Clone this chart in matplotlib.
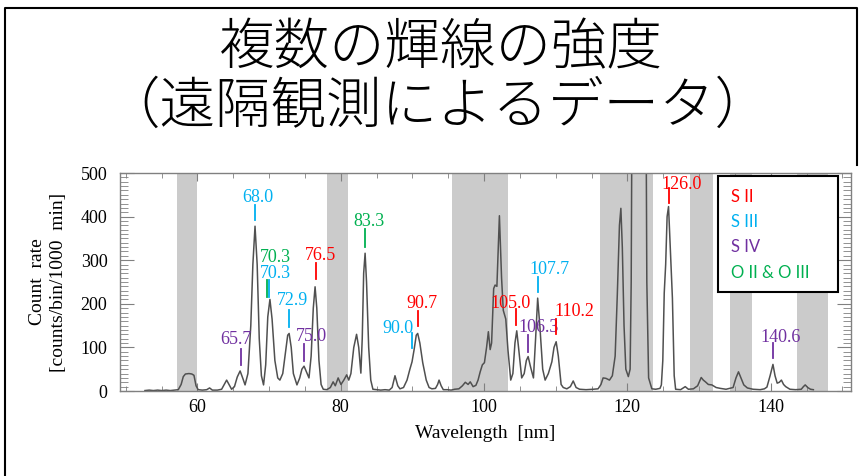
import matplotlib
matplotlib.use('Agg')
import matplotlib.pyplot as plt
from matplotlib.lines import Line2D
from matplotlib.patches import Rectangle
from matplotlib.ticker import MultipleLocator

plt.rcParams['font.family'] = ['Liberation Serif', 'DejaVu Serif']

# spectrum (nm, counts/bin/1000 min)
wavelength = [52.68, 53.27, 53.86, 54.45, 55.04, 55.63, 56.22, 56.81, 57.33, 57.73,
              58.03, 58.33, 58.82, 59.22, 59.52, 59.81, 60.11, 60.70, 61.30, 61.70,
              62.09, 62.79, 63.38, 63.78, 64.08, 64.37, 64.77, 65.17, 65.56, 65.96,
              66.36, 66.65, 67.05, 67.45, 67.74, 68.04, 68.34, 68.63, 68.93, 69.23,
              69.53, 69.82, 70.12, 70.42, 70.81, 71.21, 71.51, 71.91, 72.30, 72.60,
              72.80, 73.09, 73.39, 73.89, 74.28, 74.58, 74.88, 75.18, 75.57, 75.87,
              76.17, 76.42, 76.66, 76.96, 77.26, 77.56, 78.05, 78.55, 78.94, 79.24,
              79.64, 80.03, 80.43, 80.83, 81.12, 81.42, 81.82, 82.21, 82.51, 82.81,
              83.00, 83.20, 83.40, 83.60, 83.90, 84.19, 84.49, 84.99, 85.58, 86.18,
              86.77, 87.17, 87.57, 87.96, 88.26, 88.76, 89.25, 89.65, 89.95, 90.24,
              90.54, 90.74, 91.04, 91.44, 91.93, 92.33, 92.72, 93.22, 93.52, 93.72,
              94.01, 94.31, 94.90, 95.40, 95.89, 96.49, 96.98, 97.38, 97.77, 98.07,
              98.47, 98.86, 99.16, 99.46, 99.76, 100.05, 100.35, 100.60, 100.85, 101.05,
              101.34, 101.54, 101.79, 102.14, 102.44, 102.68, 103.03, 103.33, 103.72, 104.02,
              104.31, 104.56, 104.81, 105.25, 105.60, 105.90, 106.15, 106.49, 106.89, 107.19,
              107.48, 107.78, 108.18, 108.52, 108.97, 109.46, 109.76, 110.06, 110.36, 110.75,
              111.05, 111.55, 112.04, 112.44, 112.84, 113.33, 114.23, 115.22, 115.91, 116.31,
              116.61, 117.01, 117.50, 117.90, 118.29, 118.59, 118.89, 119.09, 119.29, 119.53,
              119.78, 120.13, 120.38, 120.53, 120.68, 121.27, 122.07, 122.56, 122.71, 122.96,
              123.41, 123.95, 124.55, 124.74, 124.94, 125.14, 125.34, 125.54, 125.74, 125.98,
              126.28, 126.53, 126.73, 127.42, 128.07, 128.51, 129.21, 129.80, 130.30, 130.59,
              130.89, 131.29, 131.78, 132.38, 132.97, 133.76, 134.75, 135.15, 135.50, 135.84,
              136.24, 136.74, 137.53, 138.52, 139.12, 139.47, 139.91, 140.31, 140.60, 140.90,
              141.20, 141.49, 141.79, 142.09, 142.68, 143.47, 144.26, 144.56, 144.81, 145.16,
              145.55, 145.95]
counts = [1, 2, 1, 2, 1, 2, 1, 2, 3, 15,
          33, 39, 40, 39, 36, 12, 3, 2, 3, 7,
          2, 2, 4, 16, 25, 16, 4, 10, 32, 46,
          28, 14, 40, 150, 290, 378, 290, 120, 35, 14,
          60, 170, 210, 165, 70, 30, 25, 40, 90, 128,
          132, 100, 40, 14, 30, 50, 57, 45, 30, 80,
          190, 239, 190, 70, 15, 4, 3, 8, 21, 12,
          30, 15, 25, 37, 25, 40, 100, 130, 100, 41,
          120, 270, 316, 250, 100, 25, 4, 3, 2, 3,
          2, 8, 35, 12, 5, 8, 25, 50, 67, 95,
          128, 132, 110, 65, 25, 8, 5, 6, 15, 25,
          12, 3, 3, 2, 4, 5, 12, 20, 15, 21,
          10, 13, 25, 44, 60, 65, 100, 136, 95, 110,
          235, 243, 240, 402, 260, 185, 165, 95, 25, 40,
          110, 138, 100, 30, 40, 70, 79, 55, 30, 120,
          213, 150, 50, 25, 40, 67, 100, 113, 80, 15,
          8, 5, 10, 23, 8, 4, 3, 4, 5, 15,
          30, 29, 25, 35, 80, 220, 380, 419, 330, 150,
          50, 33, 50, 250, 800, 3000, 3000, 800, 250, 30,
          5, 4, 6, 14, 70, 225, 290, 400, 423, 330,
          213, 35, 4, 3, 10, 4, 5, 12, 31, 25,
          21, 15, 14, 8, 6, 4, 8, 30, 44, 30,
          14, 7, 4, 3, 5, 9, 35, 61, 35, 18,
          20, 25, 15, 10, 4, 3, 4, 10, 14, 8,
          4, 3]

# shaded wavelength bands
band_start = [57.10, 78.12, 95.57, 116.19, 128.76, 134.34, 143.65]
band_end = [59.89, 80.97, 103.31, 123.63, 132.01, 137.37, 148.06]

# identified lines
line_text = ['65.7', '68.0', '70.3', '70.3', '72.9', '75.0', '76.5', '83.3',
             '90.0', '90.7', '105.0', '106.3', '107.7', '110.2', '126.0', '140.6']
line_ion = ['S IV', 'S III', 'O II & O III', 'S III', 'S III', 'S IV', 'S II', 'O II & O III',
            'S III', 'S II', 'S II', 'S IV', 'S III', 'S II', 'S II', 'S IV']
line_nm = [66.03, 68.03, 69.66, 70.02, 72.77, 74.87, 76.50, 83.38,
           89.99, 90.74, 104.46, 106.18, 107.49, 110.05, 125.83, 140.25]
line_lo = [60, 392, 216, 216, 147, 69, 257, 330, 98, 150, 151, 90, 228, 131, 431, 76]
line_hi = [96, 427, 255, 255, 186, 108, 294, 372, 134, 184, 188, 128, 262, 165, 466, 110]

# where the numbers sit
label_x = [65.31, 68.49, 70.82, 70.82, 73.33, 75.85, 77.24, 83.94,
           87.92, 91.34, 103.70, 107.54, 109.07, 112.56, 127.60, 141.32]
label_y = [108, 433, 296, 260, 197, 114, 300, 378, 133, 190, 190, 135, 268, 172, 464, 112]

ion_names = ['S II', 'S III', 'S IV', 'O II & O III']
ion_colors = {'S II': '#ff0000', 'S III': '#00b0f0', 'S IV': '#7030a0', 'O II & O III': '#00b050'}

fig = plt.figure(figsize=(8.65, 4.76), dpi=100)
ax = fig.add_axes([120 / 865, 1 - 391 / 476, 731 / 865, 218 / 476])

for a, b in zip(band_start, band_end):
    ax.axvspan(a, b, color='#cbcbcb', lw=0, zorder=0)

ax.plot(wavelength, counts, color='#505050', lw=1.1, zorder=2)

for i in range(len(line_text)):
    c = ion_colors[line_ion[i]]
    ax.plot([line_nm[i], line_nm[i]], [line_lo[i], line_hi[i]], color=c, lw=1.3, zorder=3)
    ax.text(label_x[i], label_y[i], line_text[i], color=c, fontsize=13,
            ha='center', va='baseline', zorder=3)

ax.set_xlim(49.2, 151.2)
ax.set_ylim(0, 500)
ax.set_xticks([60, 80, 100, 120, 140])
ax.xaxis.set_minor_locator(MultipleLocator(5))
ax.set_yticks([0, 100, 200, 300, 400, 500])
ax.yaxis.set_minor_locator(MultipleLocator(10))
ax.tick_params(axis='both', which='both', direction='in', top=True, right=True,
               color='#808080', labelsize=13)
ax.tick_params(axis='y', which='major', length=10, pad=9)
ax.tick_params(axis='y', which='minor', length=5.5)
ax.tick_params(axis='x', which='major', length=6, pad=6)
ax.tick_params(axis='x', which='minor', length=3.5)
for s in ax.spines.values():
    s.set_color('#808080')
    s.set_linewidth(1.0)

ax.set_xlabel('Wavelength  [nm]', fontsize=14, labelpad=6)
ax.set_ylabel('Count  rate\n[counts/bin/1000  min]', fontsize=14, linespacing=1.3)
ax.yaxis.set_label_coords(-0.072, 0.5)

# legend box
ax.add_patch(Rectangle((0.8177, 0.4528), 0.1641, 0.5334, transform=ax.transAxes,
                       facecolor='white', edgecolor='black', lw=1.5, zorder=4))
leg_y = [0.8913, 0.7739, 0.6592, 0.5399]
for name, y in zip(ion_names, leg_y):
    ax.text(0.8358, y, name, color=ion_colors[name], fontsize=12, family='Lato',
            ha='left', va='center', transform=ax.transAxes, zorder=5)

# title
fig.text(441 / 865, 1 - 48 / 476, '複数の輝線の強度', fontsize=40, fontweight='light',
         family=['Noto Sans CJK JP', 'DejaVu Sans'], ha='center', va='center')
fig.text(437 / 865, 1 - 107 / 476, '（遠隔観測によるデータ）', fontsize=40, fontweight='light',
         family=['Noto Sans CJK JP', 'DejaVu Sans'], ha='center', va='center')

# slide frame
fig.add_artist(Line2D([5 / 865, 5 / 865, 857 / 865, 857 / 865],
                      [0, 1 - 8 / 476, 1 - 8 / 476, 1 - 165 / 476],
                      transform=fig.transFigure, color='black', lw=1.5))

fig.savefig('out.png', dpi=100)
